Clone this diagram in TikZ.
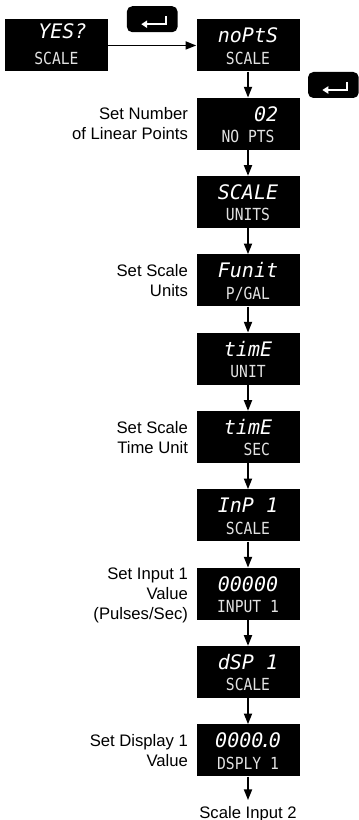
\documentclass[tikz,border=0pt]{standalone}
\usepackage{fontspec}
\setmainfont{Liberation Sans}
\newfontfamily\segfont{DejaVu Sans Mono}
\newfontfamily\tagfont[FakeStretch=0.88]{DejaVu Sans Mono}
\usetikzlibrary{arrows.meta,positioning}
\definecolor{LcdGrey}{HTML}{E2E2E2}

\begin{document}
\begin{tikzpicture}[node distance=19.35pt and 66pt, every node/.style={font=\fontsize{12.5pt}{15pt}\selectfont},
  lcd/.style={fill=black,minimum width=77.25pt,minimum height=39pt,inner sep=0pt},
  segtop/.style={anchor=base,inner sep=0pt,text=white,font=\segfont\itshape\fontsize{15pt}{15pt}\selectfont},
  segbot/.style={anchor=base,inner sep=0pt,text=LcdGrey,font=\tagfont\fontsize{12.5pt}{12.5pt}\selectfont},
  note/.style={align=right,inner sep=0pt},
  enterkey/.style={fill=black,rounded corners=4pt,minimum width=38pt,minimum height=19.5pt,inner sep=0pt},
  keyglyph/.style={white,line width=1.5pt,-{Triangle[length=4.5pt,width=5.5pt]}},
  arr/.style={line width=1.3pt,-{Triangle[length=8pt,width=6pt]}}]
\useasboundingbox (0,0) rectangle (268.5pt,-615pt);
\node[lcd] (nopts) at (186pt,-34.1pt) {};
\node[lcd,left=of nopts] (yes) {};
\node[lcd,below=of nopts] (numpts) {};
\node[lcd,below=of numpts] (units) {};
\node[lcd,below=of units] (funit) {};
\node[lcd,below=of funit] (time) {};
\node[lcd,below=of time] (timesec) {};
\node[lcd,below=of timesec] (inp) {};
\node[lcd,below=of inp] (inval) {};
\node[lcd,below=of inval] (dsp) {};
\node[lcd,below=of dsp] (dspval) {};
\node[below=22pt of dspval,inner sep=0pt] (scale2) {Scale Input 2};
% display texts
\node[segtop] (yes-t) at ([yshift=5.5pt]yes.center) {~YES?};
\node[segbot] (yes-b) at ([yshift=-14.5pt]yes.center) {SCALE~};
\node[segtop] (nopts-t) at ([yshift=2pt]nopts.center) {noPtS};
\node[segbot] (nopts-b) at ([yshift=-14pt]nopts.center) {SCALE};
\node[segtop] (numpts-t) at ([yshift=2pt]numpts.center) {~~~02};
\node[segbot] (numpts-b) at ([yshift=-14pt]numpts.center) {NO~PTS};
\node[segtop] (units-t) at ([yshift=2pt]units.center) {SCALE};
\node[segbot] (units-b) at ([yshift=-14pt]units.center) {UNITS};
\node[segtop] (funit-t) at ([yshift=2pt]funit.center) {Funit};
\node[segbot] (funit-b) at ([yshift=-14pt]funit.center) {P/GAL};
\node[segtop] (time-t) at ([yshift=2pt]time.center) {timE};
\node[segbot] (time-b) at ([yshift=-14pt]time.center) {UNIT};
\node[segtop] (timesec-t) at ([yshift=2pt]timesec.center) {timE};
\node[segbot] (timesec-b) at ([yshift=-14pt]timesec.center) {~~SEC};
\node[segtop] (inp-t) at ([yshift=2pt]inp.center) {InP~1};
\node[segbot] (inp-b) at ([yshift=-14pt]inp.center) {SCALE};
\node[segtop] (inval-t) at ([yshift=2pt]inval.center) {00000};
\node[segbot] (inval-b) at ([yshift=-14pt]inval.center) {INPUT~1};
\node[segtop] (dsp-t) at ([yshift=2pt]dsp.center) {dSP~1};
\node[segbot] (dsp-b) at ([yshift=-14pt]dsp.center) {SCALE};
\node[segtop] (dspval-t) at ([yshift=2pt]dspval.center) {0000{\kern-2.5pt.\kern-2.5pt}0};
\node[segbot] (dspval-b) at ([yshift=-14pt]dspval.center) {DSPLY~1};
% side notes
\node[note,left=6pt of numpts] (numpts-note) {Set Number\\of Linear Points};
\node[note,left=6pt of funit] (funit-note) {Set Scale\\Units};
\node[note,left=6pt of timesec] (timesec-note) {Set Scale\\Time Unit};
\node[note,left=6pt of inval,yshift=-1pt] (inval-note) {Set Input 1\\Value\\(Pulses/Sec)};
\node[note,left=6pt of dspval] (dspval-note) {Set Display 1\\Value};
% enter keys
\path (yes) -- (nopts) coordinate[pos=0.5] (mid);
\node[enterkey,above=9.75pt of mid] (key1) {};
\node[enterkey,below right=0pt and 6pt of nopts.south east] (key2) {};
\draw[keyglyph] ([shift={(10.5pt,2.25pt)}]key1.center) -- ++(0,-6pt) -- ++(-18.75pt,0);
\draw[keyglyph] ([shift={(10.5pt,2.25pt)}]key2.center) -- ++(0,-6pt) -- ++(-18.75pt,0);
\draw[arr] (yes) -- (nopts);
\draw[arr] (nopts) -- (numpts);
\draw[arr] (numpts) -- (units);
\draw[arr] (units) -- (funit);
\draw[arr] (funit) -- (time);
\draw[arr] (time) -- (timesec);
\draw[arr] (timesec) -- (inp);
\draw[arr] (inp) -- (inval);
\draw[arr] (inval) -- (dsp);
\draw[arr] (dsp) -- (dspval);
\draw[arr,shorten >=4.5pt] (dspval) -- (scale2);
\end{tikzpicture}
\end{document}
